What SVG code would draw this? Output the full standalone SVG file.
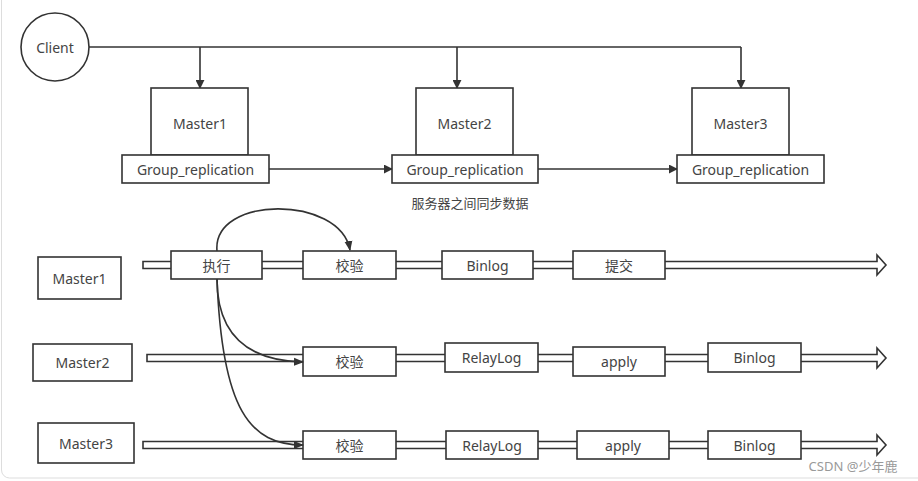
<svg xmlns="http://www.w3.org/2000/svg" width="918" height="481" viewBox="0 0 918 481">
<defs>
<style>
.b{fill:#fff;stroke:#333;stroke-width:1.6}
.t{font-family:"Noto Sans","Noto Sans CJK SC",sans-serif;font-size:14px;fill:#444;text-anchor:middle;dominant-baseline:central}
.c{fill:none;stroke:#333;stroke-width:1.6}
.h{fill:#fff;stroke:#333;stroke-width:1.6;stroke-linejoin:miter}
</style>
<marker id="a" viewBox="0 0 10 10" refX="9" refY="5" markerWidth="10" markerHeight="10" orient="auto" markerUnits="userSpaceOnUse">
<path d="M0,1 L10,5 L0,9 Z" fill="#333"/>
</marker>
<marker id="ab" viewBox="0 0 10 10" refX="9" refY="5" markerWidth="9" markerHeight="9" orient="auto" markerUnits="userSpaceOnUse">
<path d="M0,0 L10,5 L0,10 Z" fill="#333"/>
</marker>
</defs>
<rect x="1.5" y="-10" width="930" height="488" rx="8" fill="#fff" stroke="#ddd" stroke-width="1"/>

<g id="connectors">
<path class="c" d="M89,47 H741"/>
<path class="c" d="M200,47 V88" marker-end="url(#ab)"/>
<path class="c" d="M457,47 V88" marker-end="url(#ab)"/>
<path class="c" d="M741,47 V88" marker-end="url(#ab)"/>
<path class="c" d="M269,169 H392" marker-end="url(#ab)"/>
<path class="c" d="M538,169 H677" marker-end="url(#ab)"/>
<path class="h" d="M143,261.5 H877 V255 L886,265 L877,275 V268.5 H143 Z"/>
<path class="h" d="M147,354.5 H877 V348 L886,358 L877,368 V361.5 H147 Z"/>
<path class="h" d="M143,441.5 H877 V435 L886,445 L877,455 V448.5 H143 Z"/>
</g>

<g id="client"><circle class="b" cx="55" cy="47" r="34"/><text class="t" x="55" y="47">Client</text></g>
<g id="top-master1"><rect class="b" x="151" y="88" width="97" height="67"/><text class="t" x="200" y="123">Master1</text></g>
<g id="top-gr1"><rect class="b" x="122" y="155" width="147" height="28"/><text class="t" x="195.5" y="169">Group_replication</text></g>
<g id="top-master2"><rect class="b" x="416" y="88" width="97" height="67"/><text class="t" x="464.5" y="123">Master2</text></g>
<g id="top-gr2"><rect class="b" x="392" y="155" width="146" height="28"/><text class="t" x="465" y="169">Group_replication</text></g>
<g id="top-master3"><rect class="b" x="692" y="88" width="97" height="67"/><text class="t" x="740.5" y="123">Master3</text></g>
<g id="top-gr3"><rect class="b" x="677" y="155" width="147" height="28"/><text class="t" x="750.5" y="169">Group_replication</text></g>
<g id="sync-label"><text class="t" x="470" y="203" style="font-size:13px">服务器之间同步数据</text></g>

<g id="m1"><rect class="b" x="38" y="257" width="83" height="42"/><text class="t" x="79.5" y="278">Master1</text></g>
<g id="m2"><rect class="b" x="33" y="344" width="99" height="37"/><text class="t" x="82.5" y="362.5">Master2</text></g>
<g id="m3"><rect class="b" x="38" y="423" width="96" height="40"/><text class="t" x="86" y="443">Master3</text></g>

<g id="r1-exec"><rect class="b" x="171" y="251" width="91" height="28"/><text class="t" x="216.5" y="265">执行</text></g>
<g id="r1-check"><rect class="b" x="303" y="251" width="93" height="28"/><text class="t" x="349.5" y="265">校验</text></g>
<g id="r1-binlog"><rect class="b" x="442" y="251" width="91" height="28"/><text class="t" x="487.5" y="265">Binlog</text></g>
<g id="r1-commit"><rect class="b" x="573" y="251" width="92" height="28"/><text class="t" x="619" y="265">提交</text></g>

<g id="r2-check"><rect class="b" x="303" y="347" width="93" height="29"/><text class="t" x="349.5" y="361.5">校验</text></g>
<g id="r2-relay"><rect class="b" x="445" y="343" width="93" height="29"/><text class="t" x="491.5" y="357.5">RelayLog</text></g>
<g id="r2-apply"><rect class="b" x="573" y="347" width="92" height="29"/><text class="t" x="619" y="361.5">apply</text></g>
<g id="r2-binlog"><rect class="b" x="708" y="343" width="93" height="29"/><text class="t" x="754.5" y="357.5">Binlog</text></g>

<g id="r3-check"><rect class="b" x="303" y="431" width="93" height="28"/><text class="t" x="349.5" y="445">校验</text></g>
<g id="r3-relay"><rect class="b" x="446" y="431" width="92" height="28"/><text class="t" x="492" y="445">RelayLog</text></g>
<g id="r3-apply"><rect class="b" x="577" y="431" width="92" height="28"/><text class="t" x="623" y="445">apply</text></g>
<g id="r3-binlog"><rect class="b" x="708" y="431" width="93" height="28"/><text class="t" x="754.5" y="445">Binlog</text></g>

<g id="curves">
<path class="c" d="M217,251 C212,195 340,195 350,250" marker-end="url(#a)"/>
<path class="c" d="M217,279 C217,345 260,361 303,362" marker-end="url(#a)"/>
<path class="c" d="M217,279 C222,410 250,445 303,445" marker-end="url(#a)"/>
</g>

<text x="853" y="466" style="font-family:'Noto Sans','Noto Sans CJK SC',sans-serif;font-size:13px;fill:#999;text-anchor:middle;dominant-baseline:central">CSDN @少年鹿</text>
</svg>
